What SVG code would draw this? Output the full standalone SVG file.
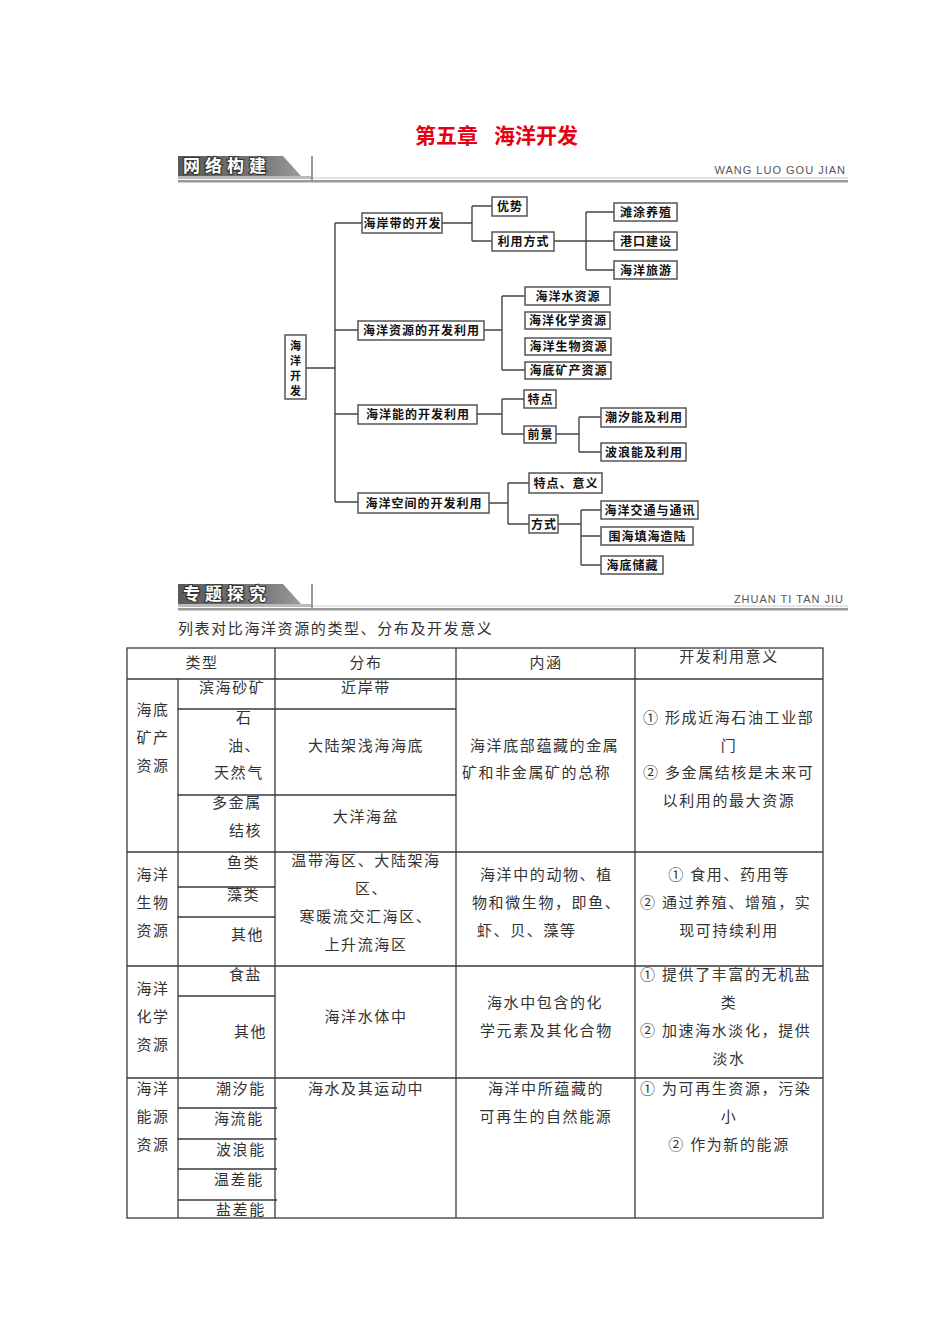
<svg xmlns="http://www.w3.org/2000/svg" width="950" height="1344" viewBox="0 0 950 1344">
<style>
.title{font-family:"Noto Sans CJK SC",sans-serif;font-size:21px;font-weight:bold;fill:#e60012;}
.bantxt{font-family:"Noto Sans CJK SC",sans-serif;font-size:17px;font-weight:bold;fill:#fff;stroke:#333;stroke-width:2.2;paint-order:stroke;letter-spacing:5px;}
.pinyin{font-family:"Liberation Sans",Arial,sans-serif;font-size:11px;fill:#555;letter-spacing:1px;text-anchor:end;}
.box{fill:#fff;stroke:#555;stroke-width:1.5;}
.nt{font-family:"Noto Sans CJK SC",sans-serif;font-size:12px;font-weight:bold;fill:#111;text-anchor:middle;letter-spacing:1px;}
.vt{font-family:"Noto Sans CJK SC",sans-serif;font-size:11px;font-weight:bold;fill:#111;text-anchor:middle;}
.conn{stroke:#444;stroke-width:1.4;fill:none;}
.tl{stroke:#3a3a3a;stroke-width:1.3;fill:none;}
.t{font-family:"Liberation Serif","Noto Sans CJK SC",serif;font-size:15px;fill:#333;letter-spacing:1.6px;}
.c{text-anchor:middle;}
</style>
<defs>
<linearGradient id="bg" x1="0" y1="0" x2="1" y2="0">
<stop offset="0" stop-color="#5a5a5a"/>
<stop offset="0.7" stop-color="#7a7a7a"/>
<stop offset="1" stop-color="#9a9a9a"/>
</linearGradient>
</defs>
<rect width="950" height="1344" fill="#fff"/>

<text class="title" x="415" y="143">第五章</text>
<text class="title" x="494" y="143">海洋开发</text>

<g id="banner1">
<polygon points="178,156 283,156 301,176 178,176" fill="url(#bg)"/>
<rect x="178" y="176" width="134" height="3" fill="#bbb"/>
<line x1="312" y1="156" x2="312" y2="181" stroke="#999" stroke-width="2"/>
<line x1="313" y1="178" x2="848" y2="178" stroke="#ccc" stroke-width="1"/>
<rect x="178" y="180" width="670" height="2.5" fill="#999"/>
<text class="bantxt" x="183" y="172">网络构建</text>
<text class="pinyin" x="846" y="174">WANG LUO GOU JIAN</text>
</g>

<g id="connectors">
<path class="conn" d="M306,368H335 M335,223V502 M335,223H362 M335,330H358 M335,414H358 M335,502H358"/>
<path class="conn" d="M442,223H472 M472,206V241 M472,206H492 M472,241H492"/>
<path class="conn" d="M554,241H614 M586,212V270 M586,212H614 M586,270H614"/>
<path class="conn" d="M484,330H502 M502,296V370 M502,296H525 M502,370H525"/>
<path class="conn" d="M477,414H502 M502,399V434 M502,399H524 M502,434H524"/>
<path class="conn" d="M556,434H579 M579,417V452 M579,417H601 M579,452H601"/>
<path class="conn" d="M489,503H508 M508,483V524 M508,483H529 M508,524H529"/>
<path class="conn" d="M558,524H581 M581,510V565 M581,510H601 M581,536H601 M581,565H601"/>
</g>

<g id="root"><rect class="box" x="285" y="335" width="21" height="64"/>
<text class="vt" x="295.5" y="350">海</text><text class="vt" x="295.5" y="365">洋</text><text class="vt" x="295.5" y="380">开</text><text class="vt" x="295.5" y="395">发</text></g>
<g id="a1"><rect class="box" x="362" y="213" width="80" height="20"/><text class="nt" x="402.5" y="228">海岸带的开发</text></g>
<g id="a2"><rect class="box" x="358" y="321" width="126" height="19"/><text class="nt" x="421.5" y="335">海洋资源的开发利用</text></g>
<g id="a3"><rect class="box" x="358" y="405" width="119" height="19"/><text class="nt" x="418" y="419">海洋能的开发利用</text></g>
<g id="a4"><rect class="box" x="358" y="493" width="131" height="20"/><text class="nt" x="424" y="508">海洋空间的开发利用</text></g>
<g id="b1"><rect class="box" x="492" y="197" width="35" height="19"/><text class="nt" x="510" y="211">优势</text></g>
<g id="b2"><rect class="box" x="492" y="232" width="62" height="19"/><text class="nt" x="523.5" y="246">利用方式</text></g>
<g id="c1"><rect class="box" x="614" y="203" width="63" height="18"/><text class="nt" x="646" y="217">滩涂养殖</text></g>
<g id="c2"><rect class="box" x="614" y="232" width="63" height="18"/><text class="nt" x="646" y="246">港口建设</text></g>
<g id="c3"><rect class="box" x="614" y="261" width="63" height="18"/><text class="nt" x="646" y="275">海洋旅游</text></g>
<g id="d1"><rect class="box" x="525" y="287" width="85" height="18"/><text class="nt" x="568" y="301">海洋水资源</text></g>
<g id="d2"><rect class="box" x="525" y="312" width="85" height="17"/><text class="nt" x="568" y="325">海洋化学资源</text></g>
<g id="d3"><rect class="box" x="525" y="338" width="86" height="17"/><text class="nt" x="568.5" y="351">海洋生物资源</text></g>
<g id="d4"><rect class="box" x="525" y="362" width="86" height="17"/><text class="nt" x="568.5" y="375">海底矿产资源</text></g>
<g id="e1"><rect class="box" x="524" y="390" width="32" height="18"/><text class="nt" x="540.5" y="404">特点</text></g>
<g id="e2"><rect class="box" x="524" y="426" width="32" height="17"/><text class="nt" x="540.5" y="439">前景</text></g>
<g id="f1"><rect class="box" x="601" y="408" width="85" height="19"/><text class="nt" x="644" y="422">潮汐能及利用</text></g>
<g id="f2"><rect class="box" x="601" y="443" width="85" height="18"/><text class="nt" x="644" y="457">波浪能及利用</text></g>
<g id="g1"><rect class="box" x="529" y="473" width="73" height="20"/><text class="nt" x="566" y="488">特点、意义</text></g>
<g id="g2"><rect class="box" x="529" y="515" width="29" height="18"/><text class="nt" x="544" y="529">方式</text></g>
<g id="h1"><rect class="box" x="601" y="501" width="97" height="18"/><text class="nt" x="650" y="515">海洋交通与通讯</text></g>
<g id="h2"><rect class="box" x="601" y="527" width="92" height="18"/><text class="nt" x="647.5" y="541">围海填海造陆</text></g>
<g id="h3"><rect class="box" x="601" y="556" width="62" height="18"/><text class="nt" x="632.5" y="570">海底储藏</text></g>

<g id="banner2">
<polygon points="178,584 283,584 301,604 178,604" fill="url(#bg)"/>
<rect x="178" y="604" width="134" height="3" fill="#bbb"/>
<line x1="312" y1="584" x2="312" y2="609" stroke="#999" stroke-width="2"/>
<line x1="313" y1="606" x2="848" y2="606" stroke="#ccc" stroke-width="1"/>
<rect x="178" y="608" width="670" height="2.5" fill="#999"/>
<text class="bantxt" x="183" y="600">专题探究</text>
<text class="pinyin" x="844" y="603">ZHUAN TI TAN JIU</text>
</g>

<text class="t" x="178" y="634">列表对比海洋资源的类型、分布及开发意义</text>

<g id="table">
<rect class="tl" x="127" y="648" width="696" height="570" stroke-width="1.6"/>
<path class="tl" d="M127,679H823 M127,852H823 M127,966H823 M127,1078H823 M275,648V1218 M456,648V1218 M635,648V1218 M178,679V1218"/>
<path class="tl" d="M178,709H456 M178,795H456 M178,887H275 M178,917H275 M178,996H275 M178,1108H277 M178,1139H277 M178,1169H277 M178,1200H277"/>

<text class="t c" x="202" y="668">类型</text>
<text class="t c" x="366" y="668">分布</text>
<text class="t c" x="546" y="668">内涵</text>
<text class="t c" x="729" y="662">开发利用意义</text>

<text class="t c" x="153" y="715">海底</text>
<text class="t c" x="153" y="743">矿产</text>
<text class="t c" x="153" y="771">资源</text>
<text class="t" x="199" y="693">滨海砂矿</text>
<text class="t" x="236" y="723">石</text>
<text class="t" x="228" y="751">油、</text>
<text class="t" x="214" y="778">天然气</text>
<text class="t" x="212" y="808">多金属</text>
<text class="t" x="229" y="836">结核</text>
<text class="t c" x="366" y="693">近岸带</text>
<text class="t c" x="366" y="751">大陆架浅海海底</text>
<text class="t c" x="366" y="822">大洋海盆</text>
<text class="t" x="470" y="751">海洋底部蕴藏的金属</text>
<text class="t" x="462" y="778">矿和非金属矿的总称</text>
<text class="t" x="643" y="723">① 形成近海石油工业部</text>
<text class="t c" x="729" y="751">门</text>
<text class="t" x="643" y="778">② 多金属结核是未来可</text>
<text class="t c" x="729" y="806">以利用的最大资源</text>

<text class="t c" x="153" y="880">海洋</text>
<text class="t c" x="153" y="908">生物</text>
<text class="t c" x="153" y="936">资源</text>
<text class="t" x="227" y="868">鱼类</text>
<text class="t" x="227" y="900">藻类</text>
<text class="t" x="231" y="940">其他</text>
<text class="t c" x="366" y="866">温带海区、大陆架海</text>
<text class="t" x="355" y="894">区、</text>
<text class="t c" x="366" y="922">寒暖流交汇海区、</text>
<text class="t c" x="366" y="950">上升流海区</text>
<text class="t" x="480" y="880">海洋中的动物、植</text>
<text class="t" x="472" y="908">物和微生物，即鱼、</text>
<text class="t" x="477" y="936">虾、贝、藻等</text>
<text class="t c" x="729" y="880">① 食用、药用等</text>
<text class="t" x="640" y="908">② 通过养殖、增殖，实</text>
<text class="t c" x="729" y="936">现可持续利用</text>

<text class="t c" x="153" y="994">海洋</text>
<text class="t c" x="153" y="1022">化学</text>
<text class="t c" x="153" y="1050">资源</text>
<text class="t" x="229" y="980">食盐</text>
<text class="t" x="234" y="1037">其他</text>
<text class="t c" x="366" y="1022">海洋水体中</text>
<text class="t" x="487" y="1008">海水中包含的化</text>
<text class="t" x="480" y="1036">学元素及其化合物</text>
<text class="t" x="640" y="980">① 提供了丰富的无机盐</text>
<text class="t c" x="729" y="1008">类</text>
<text class="t" x="640" y="1036">② 加速海水淡化，提供</text>
<text class="t c" x="729" y="1064">淡水</text>

<text class="t c" x="153" y="1094">海洋</text>
<text class="t c" x="153" y="1122">能源</text>
<text class="t c" x="153" y="1150">资源</text>
<text class="t" x="216" y="1094">潮汐能</text>
<text class="t" x="214" y="1124">海流能</text>
<text class="t" x="216" y="1155">波浪能</text>
<text class="t" x="214" y="1185">温差能</text>
<text class="t" x="216" y="1215">盐差能</text>
<text class="t c" x="366" y="1094">海水及其运动中</text>
<text class="t c" x="546" y="1094">海洋中所蕴藏的</text>
<text class="t c" x="546" y="1122">可再生的自然能源</text>
<text class="t" x="640" y="1094">① 为可再生资源，污染</text>
<text class="t c" x="729" y="1122">小</text>
<text class="t c" x="729" y="1150">② 作为新的能源</text>
</g>
</svg>
